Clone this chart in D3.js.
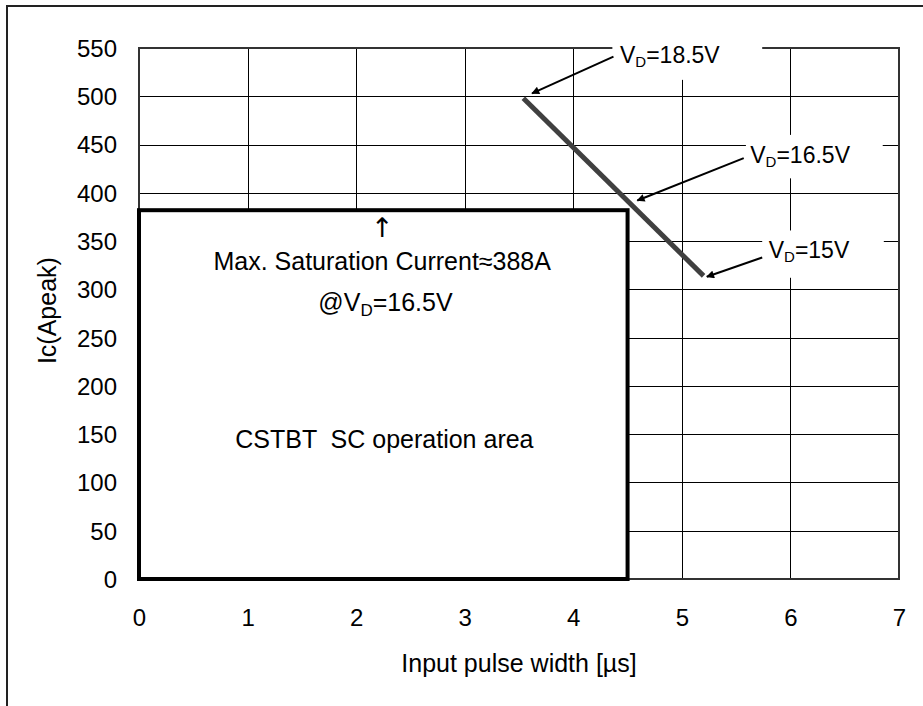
<!DOCTYPE html>
<html>
<head>
<meta charset="utf-8">
<script src="https://cdn.jsdelivr.net/npm/d3@7"></script>
<style>
  body { margin: 0; background: #fff; }
  svg { display: block; font-family: "Liberation Sans", Arial, sans-serif; }
  text { white-space: pre; }
</style>
</head>
<body>
<svg width="923" height="706"></svg>
<script>
// data ======================================================
var xTicks = [0, 1, 2, 3, 4, 5, 6, 7];
var yTicks = [0, 50, 100, 150, 200, 250, 300, 350, 400, 450, 500, 550];

// SC operation area (pulse width limit, current limit)
var areaX = [0, 4.5];
var areaY = [0, 382];

// saturation current vs gate voltage line (18.5V end, 15V end)
var satX = [3.54, 5.2];
var satY = [498, 314];

// callout labels: VD value, text anchor, arrow start -> arrow end
var vdLabels = ["18.5V", "16.5V", "15V"];
var vdTextX = [4.43, 5.63, 5.80];
var vdTextY = [534, 431, 332];
var vdArrowFromX = [4.37, 5.57, 5.74];
var vdArrowFromY = [541, 436, 333];
var vdArrowToX = [3.62, 4.59, 5.23];
var vdArrowToY = [503, 392, 313];
var vdBoxX = [[4.36, 5.74], [5.59, 6.85], [5.74, 6.86]];
var vdBoxY = [[557, 517], [460, 415], [361, 312]];

// globals ===================================================
var svg = d3.select("svg");
var margin = {left: 139, right: 24, top: 48, bottom: 127};
var width = 923 - margin.left - margin.right,
    height = 706 - margin.top - margin.bottom;

var x = d3.scaleLinear().domain([0, 7]).range([margin.left, margin.left + width]);
var y = d3.scaleLinear().domain([0, 550]).range([margin.top + height, margin.top]);

// outer frame (left and top only)
svg.append("path")
  .attr("d", "M7,706V6H923")
  .attr("fill", "none")
  .attr("stroke", "#222")
  .attr("stroke-width", 2);

// grid ======================================================
var grid = svg.append("g").attr("class", "grid");

grid.selectAll("line.v")
  .data(xTicks.slice(1, -1))
  .enter().append("line")
  .attr("class", "v")
  .attr("x1", function(d) { return Math.round(x(d)) + 0.5; })
  .attr("x2", function(d) { return Math.round(x(d)) + 0.5; })
  .attr("y1", y(550))
  .attr("y2", y(0))
  .attr("stroke", "#000")
  .attr("stroke-width", 1);

grid.selectAll("line.h")
  .data(yTicks.slice(1, -1))
  .enter().append("line")
  .attr("class", "h")
  .attr("x1", x(0))
  .attr("x2", x(7))
  .attr("y1", function(d) { return Math.round(y(d)) + 0.5; })
  .attr("y2", function(d) { return Math.round(y(d)) + 0.5; })
  .attr("stroke", "#000")
  .attr("stroke-width", 1);

svg.append("rect")
  .attr("x", x(0))
  .attr("y", y(550))
  .attr("width", x(7) - x(0))
  .attr("height", y(0) - y(550))
  .attr("fill", "none")
  .attr("stroke", "#333")
  .attr("stroke-width", 2);

// axes labels ===============================================
var xAxis = d3.axisBottom(x).tickValues(xTicks).tickFormat(d3.format("d")).tickSize(0).tickPadding(0);
var gx = svg.append("g")
  .attr("transform", "translate(0," + (y(0) + 47) + ")")
  .call(xAxis);
gx.select(".domain").remove();
gx.selectAll("text")
  .attr("dy", "0")
  .attr("font-size", 24)
  .attr("font-family", "Liberation Sans, Arial, sans-serif")
  .attr("fill", "#000");

var yAxis = d3.axisLeft(y).tickValues(yTicks).tickSize(0).tickPadding(0);
var gy = svg.append("g")
  .attr("transform", "translate(" + (x(0) - 22) + ",0)")
  .call(yAxis);
gy.select(".domain").remove();
gy.selectAll("text")
  .attr("dy", "0.35em")
  .attr("font-size", 24)
  .attr("font-family", "Liberation Sans, Arial, sans-serif")
  .attr("fill", "#000");

svg.append("text")
  .attr("x", 519)
  .attr("y", 672)
  .attr("text-anchor", "middle")
  .attr("font-size", 25)
  .text("Input pulse width [µs]");

svg.append("text")
  .attr("transform", "translate(56," + y(278) + ") rotate(-90)")
  .attr("text-anchor", "middle")
  .attr("font-size", 25)
  .text("Ic(Apeak)");

// SC area box ===============================================
svg.append("rect")
  .attr("x", x(areaX[0]))
  .attr("y", y(areaY[1]))
  .attr("width", x(areaX[1]) - x(areaX[0]))
  .attr("height", y(areaY[0]) - y(areaY[1]))
  .attr("fill", "#fff")
  .attr("stroke", "#000")
  .attr("stroke-width", 4);

svg.append("text")
  .attr("x", x(2.24))
  .attr("y", y(354))
  .attr("text-anchor", "middle")
  .attr("font-size", 27)
  .attr("font-family", "DejaVu Sans, sans-serif")
  .attr("fill", "#000")
  .text("↑");

svg.append("text")
  .attr("x", x(2.24))
  .attr("y", y(320))
  .attr("text-anchor", "middle")
  .attr("font-size", 25)
  .text("Max. Saturation Current≈388A");

var at = svg.append("text")
  .attr("x", x(2.27))
  .attr("y", y(278))
  .attr("text-anchor", "middle")
  .attr("font-size", 25);
at.append("tspan").text("@V");
at.append("tspan").attr("font-size", 17).attr("dy", 5).text("D");
at.append("tspan").attr("dy", -5).text("=16.5V");

svg.append("text")
  .attr("x", x(2.26))
  .attr("y", y(136))
  .attr("text-anchor", "middle")
  .attr("font-size", 25)
  .text("CSTBT  SC operation area");

// saturation line ===========================================
svg.append("line")
  .attr("x1", x(satX[0]))
  .attr("y1", y(satY[0]))
  .attr("x2", x(satX[1]))
  .attr("y2", y(satY[1]))
  .attr("stroke", "#404040")
  .attr("stroke-width", 5);

// callouts ==================================================
svg.append("defs").append("marker")
  .attr("id", "head")
  .attr("viewBox", "0 0 10 10")
  .attr("refX", 9)
  .attr("refY", 5)
  .attr("markerWidth", 10)
  .attr("markerHeight", 8)
  .attr("markerUnits", "userSpaceOnUse")
  .attr("orient", "auto")
  .append("path")
  .attr("d", "M0,0L10,5L0,10z")
  .attr("fill", "#000");

var callouts = svg.append("g").attr("class", "callouts");

vdLabels.forEach(function(label, i) {
  callouts.append("rect")
    .attr("x", x(vdBoxX[i][0]))
    .attr("y", y(vdBoxY[i][0]))
    .attr("width", x(vdBoxX[i][1]) - x(vdBoxX[i][0]))
    .attr("height", y(vdBoxY[i][1]) - y(vdBoxY[i][0]))
    .attr("fill", "#fff");

  callouts.append("line")
    .attr("x1", x(vdArrowFromX[i]))
    .attr("y1", y(vdArrowFromY[i]))
    .attr("x2", x(vdArrowToX[i]))
    .attr("y2", y(vdArrowToY[i]))
    .attr("stroke", "#000")
    .attr("stroke-width", 2)
    .attr("marker-end", "url(#head)");

  var t = callouts.append("text")
    .attr("x", x(vdTextX[i]))
    .attr("y", y(vdTextY[i]))
    .attr("font-size", 23);
  t.append("tspan").text("V");
  t.append("tspan").attr("font-size", 15).attr("dy", 4).text("D");
  t.append("tspan").attr("dy", -4).text("=" + label);
});
</script>
</body>
</html>
